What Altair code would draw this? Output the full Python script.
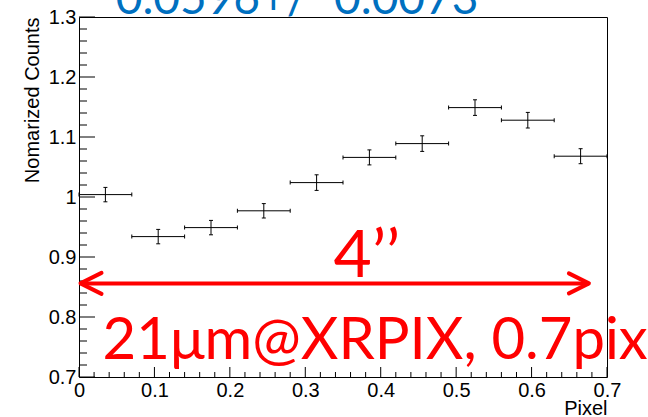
import altair as alt
import pandas as pd

# ---- data ----
bin_edges = [0.0, 0.07, 0.14, 0.21, 0.28, 0.35, 0.42, 0.49, 0.56, 0.63, 0.70]
counts = [1.004, 0.934, 0.949, 0.977, 1.024, 1.066, 1.089, 1.149, 1.128, 1.068]
count_err = [0.012, 0.012, 0.012, 0.012, 0.013, 0.0125, 0.013, 0.013, 0.013, 0.0125]

x_major = [0.0, 0.1, 0.2, 0.3, 0.4, 0.5, 0.6, 0.7]
x_minor = [0.02, 0.04, 0.06, 0.08, 0.12, 0.14, 0.16, 0.18, 0.22, 0.24, 0.26, 0.28,
           0.32, 0.34, 0.36, 0.38, 0.42, 0.44, 0.46, 0.48, 0.52, 0.54, 0.56, 0.58,
           0.62, 0.64, 0.66, 0.68]
y_major = [0.7, 0.8, 0.9, 1.0, 1.1, 1.2, 1.3]
y_minor = [0.72, 0.74, 0.76, 0.78, 0.82, 0.84, 0.86, 0.88, 0.92, 0.94, 0.96, 0.98,
           1.02, 1.04, 1.06, 1.08, 1.12, 1.14, 1.16, 1.18, 1.22, 1.24, 1.26, 1.28]

arrow_x = [0.002, 0.676]
arrow_y = [0.856, 0.856]
fit_text = ["\u22120.0596+/\u22120.0073"]
fit_pos = [0.0133, 1.3055]
angle_text = ["4\u2019\u2019"]
angle_pos = [0.3816, 0.867]
size_text = ["21\u03bcm@XRPIX, 0.7pix"]
size_pos = [0.0313, 0.7296]

W, H = 528, 360
ANNFONT = "Lato, sans-serif"
AXFONT = "Liberation Sans, Arial, Helvetica, sans-serif"

# ---- tables ----
lo = bin_edges[:-1]
hi = bin_edges[1:]
centers = [(a + b) / 2 for a, b in zip(lo, hi)]
df = pd.DataFrame({"lo": lo, "hi": hi, "c": centers, "v": counts,
                   "ylo": [v - e for v, e in zip(counts, count_err)],
                   "yhi": [v + e for v, e in zip(counts, count_err)]})
xends = pd.DataFrame({"x": lo + hi, "v": counts + counts})
yends = pd.DataFrame({"c": centers + centers,
                      "y": list(df["ylo"]) + list(df["yhi"])})

xscale = alt.Scale(domain=[0, 0.7], nice=False, zero=False)
yscale = alt.Scale(domain=[0.7, 1.3], nice=False, zero=False)
xaxis = alt.Axis(values=x_major, format="~g", ticks=False, domain=False, grid=False,
                 labelFlush=False, labelOverlap=False,
                 labelFont=AXFONT, labelFontSize=20, labelColor="black", labelPadding=3,
                 title="Pixel", titleFont=AXFONT, titleFontSize=20, titleFontWeight="normal",
                 titleColor="black", titleAnchor="end", titleAlign="right", titleX=W,
                 titleY=37, titleBaseline="alphabetic")
yaxis = alt.Axis(values=y_major, format="~g", ticks=False, domain=False, grid=False,
                 labelFlush=False, labelOverlap=False,
                 labelFont=AXFONT, labelFontSize=20, labelColor="black", labelPadding=3,
                 title="Nomarized Counts", titleFont=AXFONT, titleFontSize=20,
                 titleFontWeight="normal", titleColor="black", titleAngle=-90,
                 titleAlign="right", titleX=-41, titleY=0, titleBaseline="alphabetic")

X = lambda f: alt.X(f, type="quantitative", scale=xscale, axis=xaxis)
Y = lambda f: alt.Y(f, type="quantitative", scale=yscale, axis=yaxis)

hbars = alt.Chart(df).mark_rule(color="black", strokeWidth=1).encode(
    x=X("lo"), x2="hi", y=Y("v"))
hends = alt.Chart(xends).mark_tick(orient="vertical", size=4, thickness=1,
                                   color="black", opacity=1).encode(x=X("x"), y=Y("v"))
vbars = alt.Chart(df).mark_rule(color="black", strokeWidth=1).encode(
    x=X("c"), y=Y("ylo"), y2="yhi")
vends = alt.Chart(yends).mark_tick(orient="horizontal", size=4, thickness=1,
                                   color="black", opacity=1).encode(x=X("c"), y=Y("y"))

def xticks(vals, ln):
    return alt.Chart(pd.DataFrame({"t": vals})).mark_rule(color="black", strokeWidth=1).encode(
        x=X("t"), y=alt.value(H), y2=alt.value(H - ln))

def yticks(vals, ln):
    return alt.Chart(pd.DataFrame({"t": vals})).mark_rule(color="black", strokeWidth=1).encode(
        y=Y("t"), x=alt.value(0), x2=alt.value(ln))

arrow_df = pd.DataFrame({"x": arrow_x, "y": arrow_y})
arrow_line = alt.Chart(arrow_df).mark_rule(color="#ff0000", strokeWidth=4).encode(
    x=alt.X("min(x)", type="quantitative", scale=xscale, axis=xaxis),
    x2="max(x)", y=alt.Y("mean(y)", type="quantitative", scale=yscale, axis=yaxis))
left_head = alt.Chart(arrow_df.iloc[[0]]).mark_point(
    shape="M1,-0.5L0,0L1,0.5", size=1764, filled=False, stroke="#ff0000",
    strokeWidth=4, strokeJoin="round", strokeCap="round", opacity=1).encode(x=X("x"), y=Y("y"))
right_head = alt.Chart(arrow_df.iloc[[1]]).mark_point(
    shape="M-1,-0.5L0,0L-1,0.5", size=1600, filled=False, stroke="#ff0000",
    strokeWidth=4, strokeJoin="round", strokeCap="round", opacity=1).encode(x=X("x"), y=Y("y"))

def label(txt, pos, color, size, align):
    d = pd.DataFrame({"x": [pos[0]], "y": [pos[1]], "t": txt})
    return alt.Chart(d).mark_text(font=ANNFONT, fontSize=size, color=color, align=align,
                                  baseline="alphabetic").encode(x=X("x"), y=Y("y"), text="t")

chart = alt.layer(
    xticks(x_major, 10), xticks(x_minor, 5), yticks(y_major, 16), yticks(y_minor, 8),
    hbars, hends, vbars, vends,
    arrow_line, left_head, right_head,
    label(angle_text, angle_pos, "#ff0000", 66, "center"),
    label(size_text, size_pos, "#ff0000", 58, "left"),
    label(fit_text, fit_pos, "#0070c0", 46, "left"),
).properties(
    width=W, height=H,
    autosize=alt.AutoSizeParams(type="none"),
    padding={"left": 79, "top": 17, "right": 41, "bottom": 40},
    background="white",
).configure_view(stroke="black", strokeWidth=1)

chart.save("out.html", embed_options={"renderer": "svg", "actions": False})
